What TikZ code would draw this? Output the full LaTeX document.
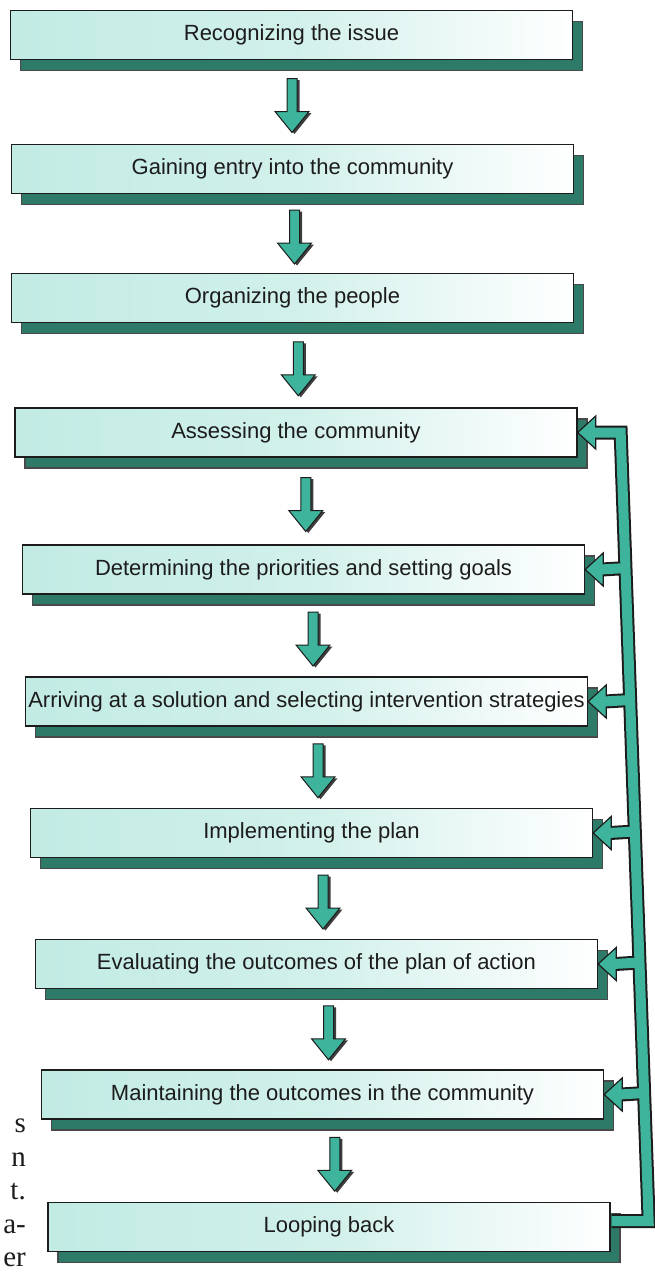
\documentclass[tikz,border=0pt]{standalone}
\usepackage{fontspec}
\setmainfont{Liberation Sans}
\newfontfamily\pageserif{Liberation Serif}
\usetikzlibrary{positioning, calc, shadows}
\definecolor{boxcyan}{HTML}{C2EBE4}
\definecolor{shadowteal}{HTML}{2E7A68}
\definecolor{loopteal}{HTML}{3DB49B}
\definecolor{inkdark}{HTML}{1C1C1C}

\begin{document}
\begin{tikzpicture}[
    x=1pt, y=1pt,
    every node/.style={font=\fontsize{22}{26}\selectfont, text=inkdark},
    stage/.style={
        rectangle, draw=inkdark, line width=1.3pt,
        left color=boxcyan, right color=white, middle color=boxcyan!75,
        minimum width=562pt, minimum height=49pt, inner sep=2pt,
        general shadow={shadow xshift=10pt, shadow yshift=-11pt,
            fill=shadowteal, draw=inkdark!80},
    },
    loopline/.style={line width=14pt, draw=inkdark},
    loopfill/.style={line width=10pt, draw=loopteal},
    flowarrow/.pic={
        \fill[inkdark!85] (-2.5,22) -- (7.5,22) -- (7.5,-11) -- (19.5,-11)
            -- (2.5,-32) -- (-14.5,-11) -- (-2.5,-11) -- cycle;
        \draw[fill=loopteal, draw=inkdark, line width=1pt]
            (-5,23.5) -- (5,23.5) -- (5,-9.5) -- (17,-9.5)
            -- (0,-30.5) -- (-17,-9.5) -- (-5,-9.5) -- cycle;
    },
    loophead/.pic={
        \draw[fill=loopteal, draw=inkdark, line width=1.2pt]
            (0,0) -- (18,16.5) -- (18,-16.5) -- cycle;
    },
]
\useasboundingbox (0,0) rectangle (655,-1283);

% Stages
\node[stage] (issue) at (291.5,-35) {Recognizing the issue};
\node[stage] (entry) at (292.5,-169) {Gaining entry into the community};
\node[stage] (organize) at (292.5,-298) {Organizing the people};
\node[stage] (assess) at (296,-432.5) {Assessing the community};
\node[stage] (goals) at (303.5,-569.5)
    {Determining the priorities and setting goals};
\node[stage] (solution) at (306.5,-701.5)
    {Arriving at a solution and selecting intervention strategies};
\node[stage] (implement) at (311.5,-833) {Implementing the plan};
\node[stage] (evaluate) at (316.5,-964)
    {Evaluating the outcomes of the plan of action};
\node[stage] (maintain) at (322.5,-1094.5)
    {Maintaining the outcomes in the community};
\node[stage] (loopback) at (329,-1227) {Looping back};

% Margin text of the page
\node[font=\pageserif\fontsize{29}{33.5}\selectfont, align=right,
    anchor=north east, inner sep=0pt] (margin) at (26,-1119)
    {s\\n\\t.\\a-\\er};

% --- Forward flow ---
\pic at ($(issue.south)!.5!(entry.north)$) {flowarrow};
\pic[xshift=2pt] at ($(entry.south)!.5!(organize.north)$) {flowarrow};
\pic[xshift=4pt] at ($(organize.south)!.5!(assess.north)$) {flowarrow};
\pic[xshift=6pt] at ($(assess.south)!.5!(goals.north)$) {flowarrow};
\pic[xshift=8pt] at ($(goals.south)!.5!(solution.north)$) {flowarrow};
\pic[xshift=9pt] at ($(solution.south)!.5!(implement.north)$) {flowarrow};
\pic[xshift=9pt] at ($(implement.south)!.5!(evaluate.north)$) {flowarrow};
\pic[xshift=9pt] at ($(evaluate.south)!.5!(maintain.north)$) {flowarrow};
\pic[xshift=9pt] at ($(maintain.south)!.5!(loopback.north)$) {flowarrow};

% --- Loop back on the right ---
\coordinate (looptop) at ($(assess.east)+(43,0)$);
\coordinate (loopbot) at ($(loopback.east)+(38,6)$);

\draw[loopline] ([xshift=1pt,yshift=6pt]loopback.east) -- (loopbot)
    -- (looptop) -- ([xshift=17pt]assess.east);
\foreach \n in {goals, solution, implement, evaluate, maintain}
    \draw[loopline] ([xshift=17pt]\n.east) -- ($(looptop)!(\n.east)!(loopbot)$);

\foreach \n in {assess, goals, solution, implement, evaluate, maintain}
    \pic at (\n.east) {loophead};

\draw[loopfill] ([xshift=1pt,yshift=6pt]loopback.east) -- (loopbot)
    -- (looptop) -- ([xshift=15pt]assess.east);
\foreach \n in {goals, solution, implement, evaluate, maintain}
    \draw[loopfill] ([xshift=15pt]\n.east) -- ($(looptop)!(\n.east)!(loopbot)$);

\end{tikzpicture}
\end{document}
